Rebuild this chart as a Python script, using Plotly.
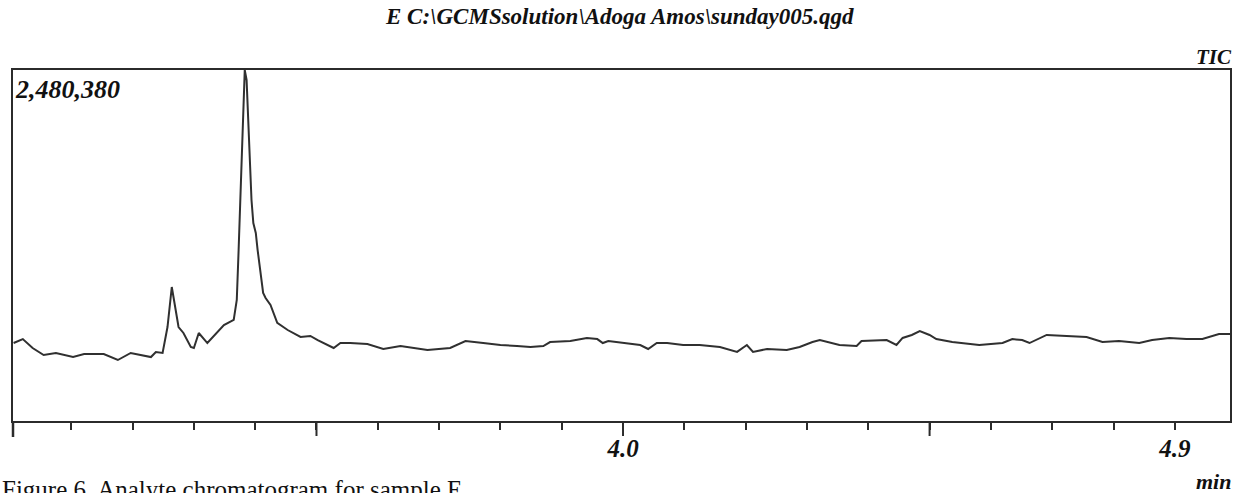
import plotly.graph_objects as go

# Total ion chromatogram (TIC), retention time in minutes vs. intensity in counts
retention_time_min = [
    3.006, 3.021, 3.037, 3.055, 3.075, 3.103, 3.121, 3.153, 3.176, 3.197,
    3.230, 3.238, 3.249, 3.257, 3.264, 3.270, 3.275, 3.283, 3.295, 3.300,
    3.308, 3.322, 3.339, 3.349, 3.365, 3.370, 3.373, 3.376, 3.379, 3.383,
    3.386, 3.388, 3.391, 3.394, 3.397, 3.401, 3.404, 3.409, 3.413, 3.417,
    3.425, 3.436, 3.453, 3.474, 3.490, 3.502, 3.528, 3.539, 3.555, 3.583,
    3.609, 3.637, 3.681, 3.718, 3.743, 3.772, 3.800, 3.827, 3.849, 3.870,
    3.881, 3.914, 3.941, 3.958, 3.967, 3.976, 4.007, 4.028, 4.041, 4.055,
    4.072, 4.098, 4.125, 4.158, 4.186, 4.202, 4.212, 4.235, 4.267, 4.288,
    4.309, 4.321, 4.353, 4.381, 4.389, 4.430, 4.446, 4.456, 4.471, 4.484,
    4.500, 4.511, 4.537, 4.581, 4.619, 4.635, 4.651, 4.663, 4.691, 4.717,
    4.756, 4.782, 4.809, 4.842, 4.863, 4.891, 4.919, 4.945, 4.972, 4.990,
]
tic_intensity = [
    551000, 579000, 516000, 466000, 481000, 452000, 473000, 473000, 431000, 481000,
    452000, 488000, 481000, 664000, 947000, 806000, 664000, 622000, 523000, 516000,
    622000, 551000, 629000, 678000, 714000, 855000, 1208000, 1611000, 1964000, 2480380,
    2410000, 2198000, 1844000, 1562000, 1399000, 1329000, 1208000, 1046000, 905000, 869000,
    820000, 693000, 643000, 594000, 601000, 572000, 516000, 551000, 551000, 544000,
    509000, 530000, 502000, 516000, 565000, 551000, 537000, 530000, 523000, 530000,
    558000, 565000, 587000, 579000, 551000, 565000, 551000, 537000, 509000, 551000,
    551000, 537000, 537000, 523000, 488000, 537000, 488000, 509000, 502000, 523000,
    558000, 572000, 537000, 530000, 565000, 572000, 537000, 587000, 608000, 636000,
    608000, 579000, 558000, 537000, 551000, 579000, 572000, 551000, 608000, 601000,
    594000, 558000, 565000, 551000, 572000, 587000, 579000, 579000, 615000, 615000,
]

minor_ticks = [round(3.1 + 0.1 * i, 1) for i in range(19)]
major_ticks = [3.5, 4.0, 4.5]
labelled_ticks = {4.0: "4.0", 4.9: "4.9"}

data_file = "E C:\\GCMSsolution\\Adoga Amos\\sunday005.qgd"
caption = "Figure 6. Analyte chromatogram for sample E"

W, H = 1239, 493
M_L, M_R, M_T, M_B = 13, 7, 70, 72
PLOT_H = H - M_T - M_B

def py(pixel_y):
    """Convert a page pixel row into a paper y coordinate."""
    return (H - M_B - pixel_y) / PLOT_H

def px(pixel_x):
    """Convert a page pixel column into a paper x coordinate."""
    return (pixel_x - M_L) / (W - M_L - M_R)

serif = "Liberation Serif, Times New Roman, serif"
ink = "#2b2b2b"

fig = go.Figure()
fig.add_trace(go.Scatter(
    x=retention_time_min, y=tic_intensity, mode="lines",
    line=dict(color="#303030", width=2), hoverinfo="skip", showlegend=False,
))

fig.update_layout(
    width=W, height=H,
    margin=dict(l=M_L, r=M_R, t=M_T, b=M_B),
    paper_bgcolor="white", plot_bgcolor="white",
    showlegend=False,
    xaxis=dict(
        range=[3.005, 4.99], showgrid=False, zeroline=False,
        showline=True, linecolor=ink, linewidth=2, mirror=True,
        ticks="outside", ticklen=7, tickwidth=2, tickcolor=ink,
        tickvals=minor_ticks,
        ticktext=[labelled_ticks.get(v, "") for v in minor_ticks],
        ticklabelstandoff=-3,
        tickfont=dict(family=serif, size=25, color="#111", weight="bold", style="italic"),
    ),
    yaxis=dict(
        range=[0, max(tic_intensity)], showgrid=False, zeroline=False,
        showline=True, linecolor=ink, linewidth=2, mirror=True,
        showticklabels=False, ticks="",
    ),
)

# Longer ticks every half minute
for v in major_ticks:
    fig.add_shape(type="line", xref="x", yref="paper", x0=v, x1=v,
                  y0=0, y1=py(436), line=dict(color=ink, width=2))
# Left frame edge runs past the time axis
fig.add_shape(type="line", xref="paper", yref="paper", x0=0, x1=0,
              y0=0, y1=py(437), line=dict(color=ink, width=2.5))

bold_it = dict(family=serif, color="#111", weight="bold", style="italic")

fig.add_annotation(text=data_file, xref="paper", yref="paper",
                   x=px(620), y=py(16), xanchor="center", yanchor="middle",
                   showarrow=False, font=dict(size=23, **bold_it))
fig.add_annotation(text="TIC", xref="paper", yref="paper",
                   x=px(1236), y=py(57), xanchor="right", yanchor="middle",
                   showarrow=False, font=dict(size=21, **bold_it))
fig.add_annotation(text=f"{max(tic_intensity):,}", xref="paper", yref="paper",
                   x=px(13), y=py(89), xanchor="left", yanchor="middle",
                   showarrow=False, font=dict(size=26, **bold_it))
fig.add_annotation(text="min", xref="paper", yref="paper",
                   x=px(1235), y=py(481), xanchor="right", yanchor="middle",
                   showarrow=False, font=dict(size=22, **bold_it))
fig.add_annotation(text=caption, xref="paper", yref="paper",
                   x=px(0), y=py(474), xanchor="left", yanchor="top",
                   showarrow=False,
                   font=dict(family=serif, size=25, color="#111"))

fig.write_html("out.html")
